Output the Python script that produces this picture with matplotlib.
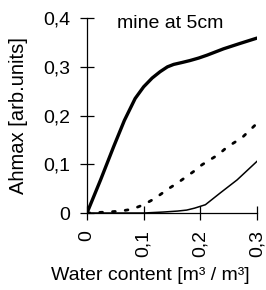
#!/usr/bin/env python3
import matplotlib.pyplot as plt
from matplotlib.ticker import FuncFormatter

plt.rcParams["font.family"] = ["Liberation Sans", "DejaVu Sans"]

# thick curve
thick_x = [0.0, 0.024, 0.047, 0.066, 0.085, 0.1, 0.115, 0.129, 0.142,
           0.153, 0.168, 0.182, 0.197, 0.212, 0.241, 0.27, 0.3]
thick_y = [0.0, 0.068, 0.136, 0.19, 0.235, 0.259, 0.277, 0.29, 0.3,
           0.305, 0.309, 0.313, 0.318, 0.324, 0.337, 0.348, 0.359]

# dotted curve
dot_x = [0.0, 0.035, 0.06, 0.08, 0.1, 0.12, 0.144, 0.159, 0.188, 0.203,
         0.232, 0.247, 0.274, 0.3]
dot_y = [0.0, 0.002, 0.004, 0.008, 0.017, 0.03, 0.05, 0.061, 0.085, 0.099,
         0.12, 0.135, 0.155, 0.184]

# thin curve
thin_x = [0.0, 0.1, 0.135, 0.16, 0.176, 0.19, 0.209, 0.235, 0.265, 0.3]
thin_y = [0.0, 0.0, 0.002, 0.004, 0.006, 0.01, 0.017, 0.041, 0.068, 0.106]

x_ticks = [0, 0.1, 0.2, 0.3]
y_ticks = [0, 0.1, 0.2, 0.3, 0.4]


def comma(v, pos):
    if abs(v) < 1e-9:
        return "0"
    return f"{v:.1f}".replace(".", ",")


fig = plt.figure(figsize=(2.66, 2.90), dpi=100)
ax = fig.add_axes([0.327, 0.2655, 0.639, 0.672])

ax.plot(thick_x, thick_y, color="black", lw=2.4, solid_capstyle="round",
        solid_joinstyle="round")
ax.plot(dot_x, dot_y, color="black", lw=2.0, linestyle=(0, (1, 3.6)),
        dash_capstyle="round")
ax.plot(thin_x, thin_y, color="black", lw=1.1, solid_joinstyle="round")

ax.set_xlim(0, 0.3)
ax.set_ylim(0, 0.4)
ax.set_xticks(x_ticks)
ax.set_yticks(y_ticks)
ax.xaxis.set_major_formatter(FuncFormatter(comma))
ax.yaxis.set_major_formatter(FuncFormatter(comma))

for side in ("top", "right"):
    ax.spines[side].set_visible(False)
for side in ("left", "bottom"):
    ax.spines[side].set_linewidth(0.9)

ax.tick_params(direction="inout", length=10, width=0.9, labelsize=14)
ax.tick_params(axis="x", labelrotation=90, pad=7)
ax.tick_params(axis="y", pad=7)

ax.text(0.49, 0.97, "mine at 5cm", fontsize=14, ha="center", va="center",
        transform=ax.transAxes)

ax.set_xlabel("Water content [m³ / m³]", fontsize=14)
ax.xaxis.set_label_coords(0.37, -0.275)
ax.set_ylabel("Ahmax [arb.units]", fontsize=14.5)
ax.yaxis.set_label_coords(-0.345, 0.5)

fig.savefig("out.png", dpi=100)
plt.close(fig)
